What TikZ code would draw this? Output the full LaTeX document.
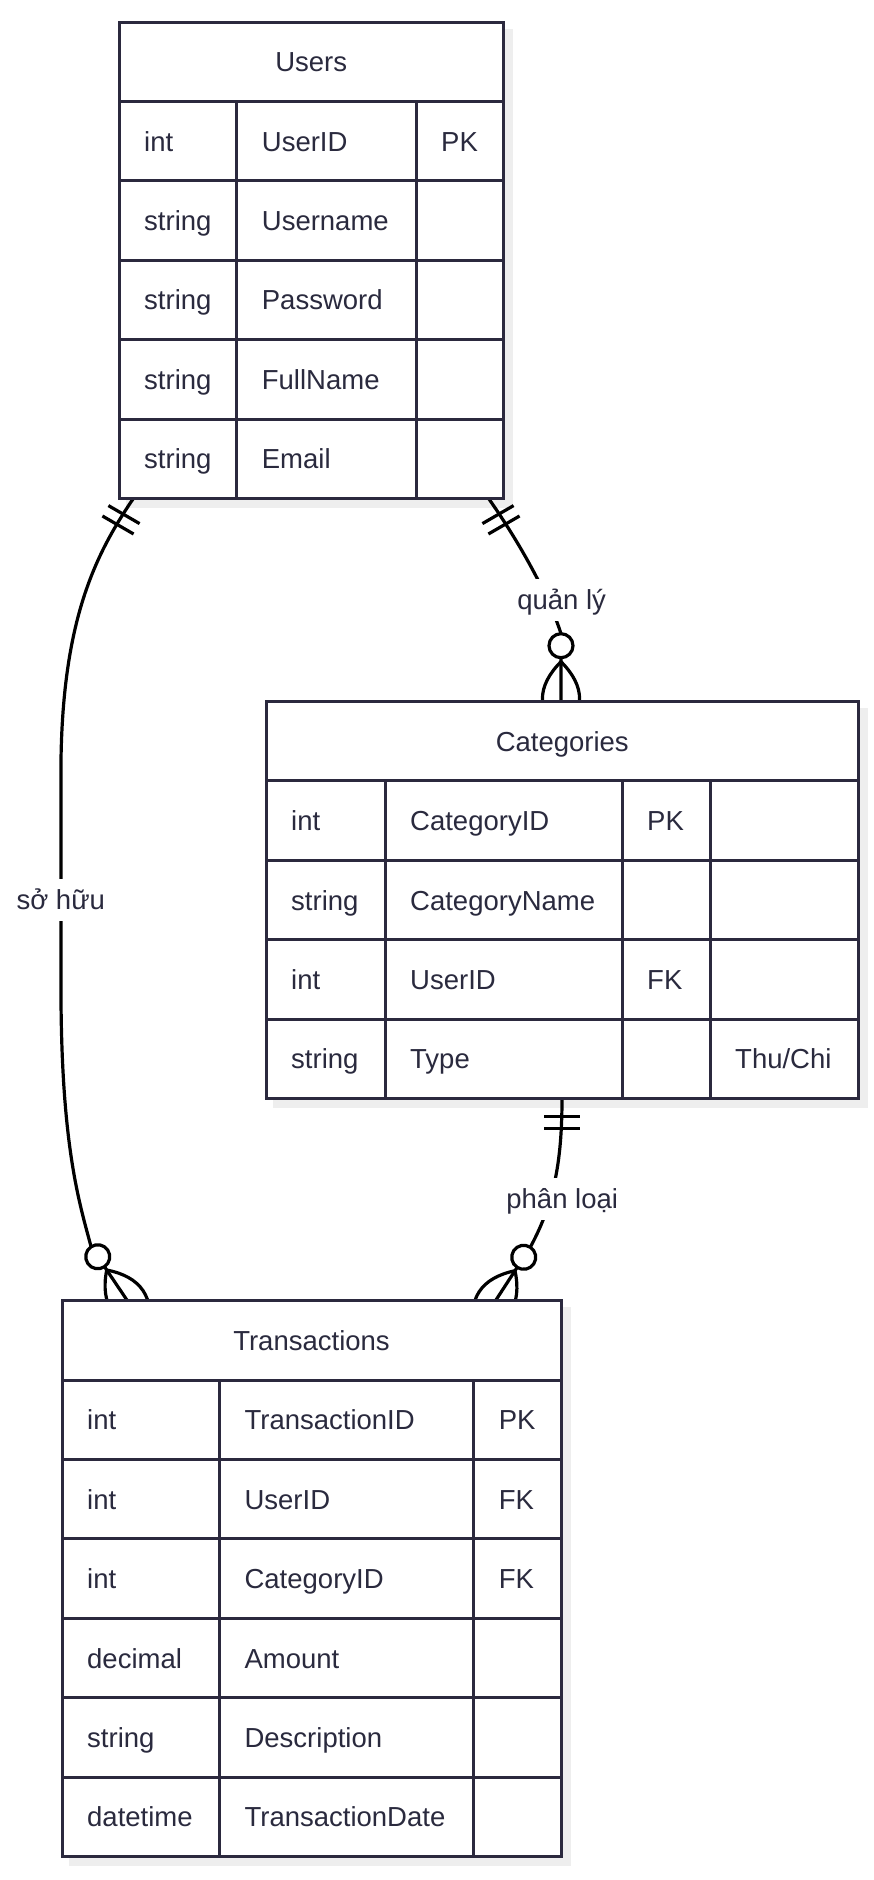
\documentclass[tikz,border=0pt]{standalone}
\usepackage{fontspec}
\setmainfont{Liberation Sans}
\definecolor{tblline}{RGB}{43,41,62}
\definecolor{txt}{RGB}{42,42,62}
\definecolor{shadowc}{RGB}{238,238,238}
\tikzset{
  tbl/.style={draw=tblline, line width=3pt, fill=white, rectangle, inner sep=0pt, outer sep=0pt, anchor=north west},
  gridline/.style={draw=tblline, line width=3pt},
  celltext/.style={anchor=base west, inner sep=0pt, text=txt, font=\fontsize{27.5pt}{33pt}\selectfont},
  headtext/.style={anchor=base, inner sep=0pt, text=txt, font=\fontsize{27.5pt}{33pt}\selectfont},
  conn/.style={draw=black, line width=3.2pt},
  rellabel/.style={anchor=base, fill=white, inner xsep=3pt, inner ysep=0pt, text height=30pt, text depth=12pt, text=txt, font=\fontsize{27.5pt}{33pt}\selectfont},
}
\newcommand{\lensfoot}[2]{%
  \begin{scope}[shift={#1}, rotate=#2]
    \draw[conn] (0,0) .. controls (-24.8,24.8) and (-24.8,49.7) .. (0,74.5);
    \draw[conn] (0,0) .. controls (24.8,24.8) and (24.8,49.7) .. (0,74.5);
    \draw[conn, fill=white] (0,-16) circle[radius=12pt];
  \end{scope}}
\newcommand{\onebar}[2]{%
  \begin{scope}[shift={#1}, rotate=#2]
    \draw[conn] (-18,18) -- (18,18) (-18,30) -- (18,30);
  \end{scope}}
\newcommand{\ct}[4]{\node[celltext] (#1) at (#2,#3) {#4};}
\begin{document}
\begin{tikzpicture}[x=1pt,y=-1pt]
\useasboundingbox (0,0) rectangle (874,1880);
% shadows
\fill[shadowc] (125.5,28.5) rectangle (512.8,507.9);
\fill[shadowc] (272.5,708) rectangle (868,1108);
\fill[shadowc] (68.5,1307.2) rectangle (570.5,1866);

% connector end points
\coordinate (u-out1) at (133,499);
\coordinate (u-out2) at (489,499);
\coordinate (c-in) at (561,701.5);
\coordinate (c-out) at (562,1098.5);
\coordinate (t-in1) at (127.4,1300.7);
\coordinate (t-in2) at (495.5,1300.7);
\coordinate (ap1) at (106.7,1270);
\coordinate (ap2) at (515,1270.7);
\coordinate (ap3) at (561,661.7);

% connectors
\draw[conn] (u-out1) .. controls (95,555) and (63,620) .. (61,760) -- (61,1000)
   .. controls (62,1150) and (80,1205) .. (91.1,1246.8) -- (ap1) -- (t-in1);
\draw[conn] (u-out2) .. controls (528,555) and (552,605) .. (561,633.7) -- (ap3) -- (c-in);
\draw[conn] (c-out) .. controls (562,1165) and (553,1205) .. (530.3,1247.2) -- (ap2) -- (t-in2);

% markers
\onebar{(u-out1)}{-30}
\onebar{(u-out2)}{30}
\onebar{(c-out)}{0}
\lensfoot{(ap3)}{0}
\lensfoot{(ap1)}{34}
\lensfoot{(ap2)}{-33}

% Users table
\node[tbl, minimum width=384.3pt, minimum height=476.4pt] (users) at (119,22) {};
\foreach \yy in {101.4,180.8,260.2,339.6,419} \draw[gridline] (119,\yy) -- (503.3,\yy);
\foreach \xx in {236.7,416} \draw[gridline] (\xx,101.4) -- (\xx,498.4);
\node[headtext] (users-title) at (311.2,71.7) {Users};
\ct{u11}{144}{151.1}{int}\ct{u12}{261.7}{151.1}{UserID}\ct{u13}{441}{151.1}{PK}
\ct{u21}{144}{230.5}{string}\ct{u22}{261.7}{230.5}{Username}
\ct{u31}{144}{309.9}{string}\ct{u32}{261.7}{309.9}{Password}
\ct{u41}{144}{389.3}{string}\ct{u42}{261.7}{389.3}{FullName}
\ct{u51}{144}{468.7}{string}\ct{u52}{261.7}{468.7}{Email}

% Categories table
\node[tbl, minimum width=592.5pt, minimum height=397pt] (categories) at (266,701.5) {};
\foreach \yy in {780.9,860.3,939.7,1019.1} \draw[gridline] (266,\yy) -- (858.5,\yy);
\foreach \xx in {385,622,710} \draw[gridline] (\xx,780.9) -- (\xx,1098.5);
\node[headtext] (categories-title) at (562.25,751.2) {Categories};
\ct{c11}{291}{830.6}{int}\ct{c12}{410}{830.6}{CategoryID}\ct{c13}{647}{830.6}{PK}
\ct{c21}{291}{910}{string}\ct{c22}{410}{910}{CategoryName}
\ct{c31}{291}{989.4}{int}\ct{c32}{410}{989.4}{UserID}\ct{c33}{647}{989.4}{FK}
\ct{c41}{291}{1068.8}{string}\ct{c42}{410}{1068.8}{Type}\ct{c44}{735}{1068.8}{Thu/Chi}

% Transactions table
\node[tbl, minimum width=499pt, minimum height=555.8pt] (transactions) at (62,1300.7) {};
\foreach \yy in {1380.1,1459.5,1538.9,1618.3,1697.7,1777.1} \draw[gridline] (62,\yy) -- (561,\yy);
\foreach \xx in {219.4,473.6} \draw[gridline] (\xx,1380.1) -- (\xx,1856.5);
\node[headtext] (transactions-title) at (311.5,1350.4) {Transactions};
\ct{t11}{87}{1429.8}{int}\ct{t12}{244.4}{1429.8}{TransactionID}\ct{t13}{498.6}{1429.8}{PK}
\ct{t21}{87}{1509.2}{int}\ct{t22}{244.4}{1509.2}{UserID}\ct{t23}{498.6}{1509.2}{FK}
\ct{t31}{87}{1588.6}{int}\ct{t32}{244.4}{1588.6}{CategoryID}\ct{t33}{498.6}{1588.6}{FK}
\ct{t41}{87}{1668}{decimal}\ct{t42}{244.4}{1668}{Amount}
\ct{t51}{87}{1747.4}{string}\ct{t52}{244.4}{1747.4}{Description}
\ct{t61}{87}{1826.8}{datetime}\ct{t62}{244.4}{1826.8}{TransactionDate}

% relationship labels
\node[rellabel] (lbl-sohuu) at (60.8,909.3) {sở hữu};
\node[rellabel] (lbl-quanly) at (561.7,609.3) {quản lý};
\node[rellabel] (lbl-phanloai) at (562.2,1208.3) {phân loại};
\end{tikzpicture}
\end{document}
